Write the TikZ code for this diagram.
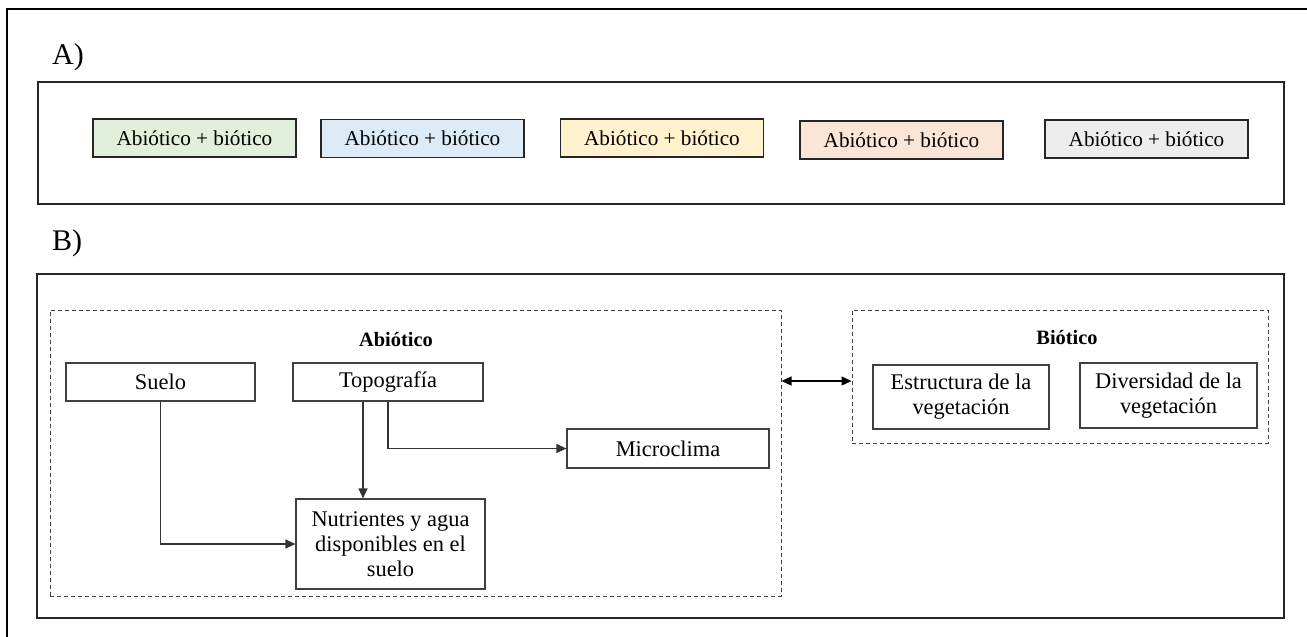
\documentclass[tikz,border=0pt]{standalone}
\usepackage{fontspec}
\setmainfont{Liberation Serif}
\usetikzlibrary{arrows.meta}
\definecolor{cgreen}{HTML}{E2EFDA}
\definecolor{cblue}{HTML}{DDEBF7}
\definecolor{cyellow}{HTML}{FFF2CC}
\definecolor{csalmon}{HTML}{FBE5D6}
\definecolor{cgray}{HTML}{EDEDED}
\definecolor{lineg}{HTML}{404040}
\begin{document}
\begin{tikzpicture}[x=0.5pt,y=-0.5pt,
  abox/.style={draw=black!85, line width=0.9pt, inner sep=0pt, minimum width=101.5pt, minimum height=19pt,
    font=\fontsize{10.6}{12.7}\selectfont},
  panel/.style={draw=black!85, line width=0.75pt, inner sep=0pt},
  group/.style={draw=lineg, line width=0.5pt, dash pattern=on 2pt off 1.5pt, inner sep=0pt},
  ibox/.style={draw=lineg, line width=0.6pt, inner sep=0pt, align=center,
    font=\fontsize{11.2}{12.6}\selectfont},
  head/.style={font=\fontsize{10.2}{12}\selectfont\bfseries},
  plabel/.style={font=\fontsize{15}{18}\selectfont},
  arr/.style={draw=black!80, line width=0.6pt, -{Triangle[length=5pt,width=4.5pt]}},
  arr2/.style={draw=black, line width=0.6pt, {Triangle[length=5pt,width=4.5pt]}-{Triangle[length=5pt,width=4.5pt]}}
]
\useasboundingbox (0,0) rectangle (1307,637);
% outer frame (clipped on right and bottom)
\draw[line width=1pt] (7,637) -- (7,9) -- (1307,9);

% Panel A
\node[plabel] (la) at (68,57) {A)};
\node[panel, minimum width=623pt, minimum height=61pt] (pa) at (661,143) {};
\node[abox, fill=cgreen]  (g1) at (194.5,138) {Abiótico + biótico};
\node[abox, fill=cblue]   (g2) at (422.5,138.5) {Abiótico + biótico};
\node[abox, fill=cyellow] (g3) at (662,138) {Abiótico + biótico};
\node[abox, fill=csalmon] (g4) at (901.5,140) {Abiótico + biótico};
\node[abox, fill=cgray]   (g5) at (1146.5,139) {Abiótico + biótico};

% Panel B
\node[plabel] (lb) at (67,243) {B)};
\node[panel, minimum width=623.5pt, minimum height=172pt] (pb) at (660.5,446) {};
\node[group, minimum width=365.5pt, minimum height=143pt] (abio) at (415.5,453) {};
\node[group, minimum width=208pt, minimum height=66.5pt] (bio) at (1060,376.5) {};
\node[head] (habio) at (396,340) {Abiótico};
\node[head] (hbio) at (1067,338) {Biótico};

\node[ibox, minimum width=94.5pt, minimum height=19pt] (suelo) at (160.5,382) {Suelo};
\node[ibox, minimum width=95pt, minimum height=19pt] (topo) at (388,382) {Topografía};
\node[ibox, minimum width=94.5pt, minimum height=45pt] (nut) at (390.5,544) {Nutrientes y agua\\disponibles en el\\suelo};
\node[ibox, minimum width=101pt, minimum height=19.5pt] (micro) at (668,448.5) {Microclima};
\node[ibox, minimum width=88pt, minimum height=32pt] (estr) at (961,397) {Estructura de la\\vegetación};
\node[ibox, minimum width=88.5pt, minimum height=32.5pt] (div) at (1168.5,395.5) {Diversidad de la\\vegetación};

% connectors
\draw[arr] (suelo.south) |- (nut.west);
\draw[arr] ([xshift=-12.5pt]topo.south) -- ([xshift=-12.5pt]topo.south |- nut.north);
\draw[arr] (topo.south) |- (micro.west);
\draw[arr2] ([yshift=36pt]abio.east) -- ([yshift=36pt]abio.east -| bio.west);
\end{tikzpicture}
\end{document}
